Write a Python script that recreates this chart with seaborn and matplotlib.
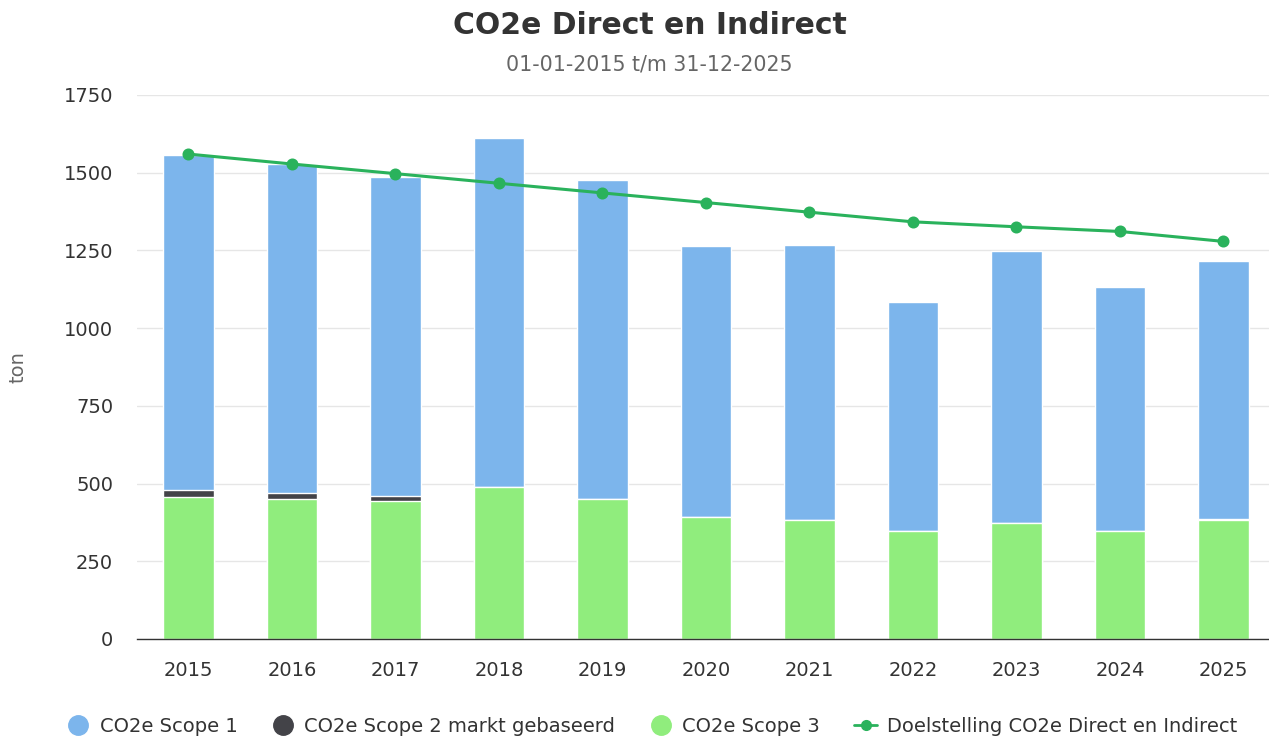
import seaborn as sns
import matplotlib.pyplot as plt
from matplotlib.lines import Line2D
import pandas as pd
import numpy as np

years = ['2015', '2016', '2017', '2018', '2019', '2020', '2021', '2022', '2023', '2024', '2025']
scope1 = [1077, 1057, 1025, 1122, 1026, 871, 883, 736, 874, 784, 829]
scope2 = [22, 22, 17, 0, 0, 0, 0, 0, 0, 0, 3]
scope3 = [458, 449, 444, 489, 450, 393, 384, 348, 374, 348, 384]
target = [1560, 1528, 1497, 1466, 1435, 1404, 1373, 1342, 1326, 1311, 1279]

c1 = '#7cb5ec'
c2 = '#434348'
c3 = '#90ed7d'
cl = '#2ab25c'

df = pd.DataFrame({'jaar': years, 's1': scope1, 's2': scope2, 's3': scope3, 'doel': target})
df['top3'] = df['s3']
df['top2'] = df['s3'] + df['s2']
df['top1'] = df['s3'] + df['s2'] + df['s1']

sns.set_style('white')
plt.rcParams['font.family'] = ['DejaVu Sans']

fig = plt.figure(figsize=(12.69, 7.37), dpi=100)
ax = fig.add_axes([136.7 / 1269, 98 / 737, 1 - 136.7 / 1269, 544 / 737])

bw = 0.49
sns.barplot(data=df, x='jaar', y='top1', color=c1, width=bw, saturation=1,
            edgecolor='white', linewidth=1, ax=ax, zorder=2)
sns.barplot(data=df, x='jaar', y='top2', color=c2, width=bw, saturation=1,
            edgecolor='white', linewidth=1, ax=ax, zorder=3)
sns.barplot(data=df, x='jaar', y='top3', color=c3, width=bw, saturation=1,
            edgecolor='white', linewidth=1, ax=ax, zorder=4)
sns.pointplot(data=df, x='jaar', y='doel', color=cl, markers='o', markersize=7,
              linewidth=2.2, ax=ax, zorder=5)

ax.set_ylim(0, 1750)
ax.set_yticks(np.arange(0, 1751, 250))
ax.set_xlim(-0.5, 10.44)
ax.grid(axis='y', color='#e6e6e6', linewidth=1, zorder=0)
ax.set_axisbelow(True)
for s in ['top', 'right', 'left']:
    ax.spines[s].set_visible(False)
ax.spines['bottom'].set_color('#333333')
ax.spines['bottom'].set_linewidth(1)
ax.spines['bottom'].set_zorder(6)
ax.tick_params(axis='y', length=0, pad=17, labelsize=14, labelcolor='#333333')
ax.tick_params(axis='x', length=0, pad=16, labelsize=14, labelcolor='#333333')
ax.set_xlabel('')
ax.set_ylabel('')

fig.text(18 / 1269, 1 - 367 / 737, 'ton', rotation=90, ha='center', va='center',
         fontsize=14, color='#666666')
fig.text(0.512, 1 - 26 / 737, 'CO2e Direct en Indirect', ha='center', va='center',
         fontsize=21.5, fontweight='bold', color='#333333')
fig.text(0.512, 1 - 64 / 737, '01-01-2015 t/m 31-12-2025', ha='center', va='center',
         fontsize=14.8, color='#666666')

handles = [
    Line2D([], [], marker='o', linestyle='none', markersize=14, color=c1),
    Line2D([], [], marker='o', linestyle='none', markersize=14, color=c2),
    Line2D([], [], marker='o', linestyle='none', markersize=14, color=c3),
    Line2D([], [], marker='o', linestyle='-', markersize=7, linewidth=2, color=cl),
]
labels = ['CO2e Scope 1', 'CO2e Scope 2 markt gebaseerd', 'CO2e Scope 3',
          'Doelstelling CO2e Direct en Indirect']
fig.legend(handles, labels, loc='center', bbox_to_anchor=(652 / 1269, 1 - 726 / 737),
           ncol=4, frameon=False, fontsize=14, labelcolor='#333333',
           handlelength=1.2, handletextpad=0.5, columnspacing=1.75)

fig.savefig('out.png', dpi=100)
